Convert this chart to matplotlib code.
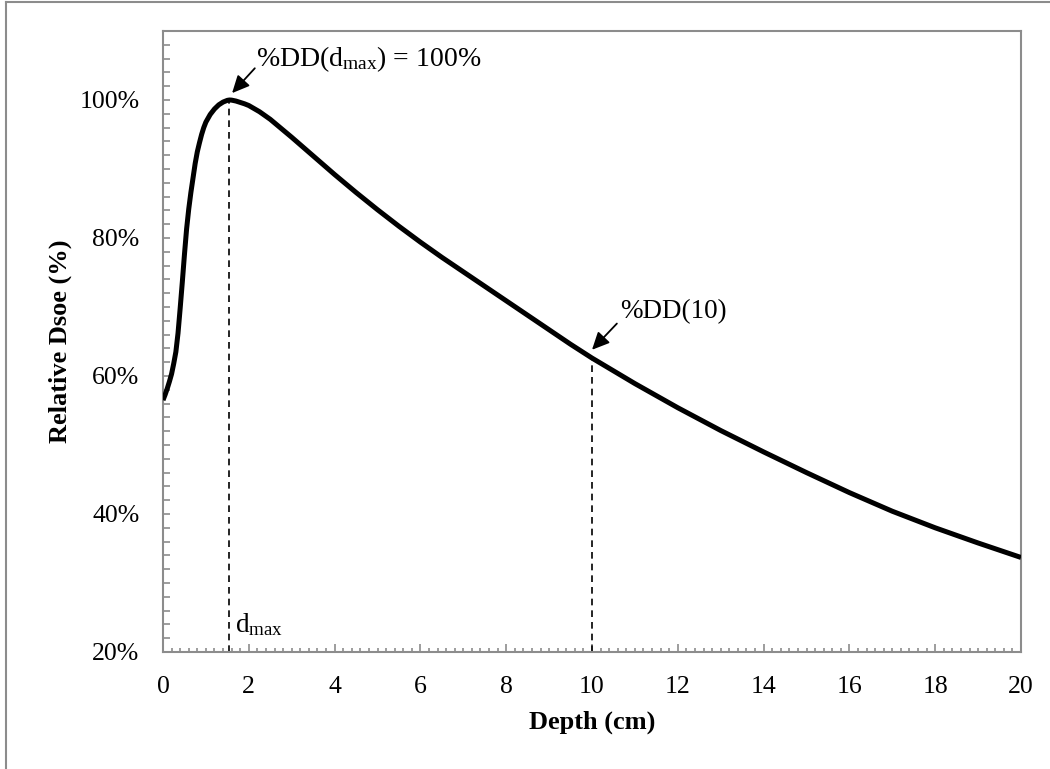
import matplotlib
matplotlib.use("Agg")
import matplotlib.pyplot as plt
from matplotlib.ticker import MultipleLocator, PercentFormatter
from matplotlib.lines import Line2D

# ---- data ----
depth = [0, 0.05, 0.1, 0.15, 0.2, 0.25, 0.3, 0.35, 0.4, 0.45, 0.5, 0.55, 0.6,
         0.65, 0.7, 0.75, 0.8, 0.85, 0.9, 0.95, 1.0, 1.1, 1.2, 1.3, 1.4, 1.5,
         1.55, 1.6, 1.7, 1.8, 1.9, 2.0, 2.25, 2.5, 2.75, 3, 3.5, 4, 4.5, 5,
         5.5, 6, 6.5, 7, 7.5, 8, 8.5, 9, 9.5, 10, 11, 12, 13, 14, 15, 16, 17,
         18, 19, 20]
dose = [56.5, 57.3, 58.2, 59.2, 60.3, 61.8, 63.5, 66.2, 69.8, 73.6, 77.6, 81.3,
        84.2, 86.6, 88.7, 90.8, 92.5, 93.8, 95.0, 96.0, 96.8, 97.9, 98.7, 99.3,
        99.7, 99.95, 100.0, 99.98, 99.85, 99.65, 99.45, 99.2, 98.3, 97.2, 95.9,
        94.6, 91.9, 89.2, 86.6, 84.1, 81.7, 79.4, 77.2, 75.1, 73.0, 70.9, 68.8,
        66.7, 64.6, 62.6, 58.9, 55.4, 52.1, 49.0, 46.0, 43.1, 40.4, 38.0, 35.8,
        33.7]
dmax = 1.55
dose_dmax = 100.0
d10 = 10.0
dose_d10 = 62.6
xticks = list(range(0, 21, 2))
yticks = [20, 40, 60, 80, 100]

plt.rcParams['font.family'] = ['Liberation Serif', 'DejaVu Serif']
plt.rcParams['mathtext.fontset'] = 'custom'
plt.rcParams['mathtext.rm'] = 'Liberation Serif'
plt.rcParams['mathtext.it'] = 'Liberation Serif:italic'
plt.rcParams['mathtext.bf'] = 'Liberation Serif:bold'

fig = plt.figure(figsize=(10.5, 7.69), dpi=100)
ax = fig.add_axes([163/1050, 1-652/769, (1021-163)/1050, (652-31)/769])

ax.plot(depth, dose, color='black', lw=3.6, solid_joinstyle='round',
        solid_capstyle='butt', zorder=3)

# dashed reference lines
ax.plot([dmax, dmax], [20, dose_dmax], color='black', lw=1.2, ls=(0, (4, 3)), zorder=2)
ax.plot([d10, d10], [20, dose_d10], color='black', lw=1.2, ls=(0, (4, 3)), zorder=2)

ax.set_xlim(0, 20)
ax.set_ylim(20, 110)
ax.set_xticks(xticks)
ax.set_yticks(yticks)
ax.xaxis.set_minor_locator(MultipleLocator(0.2))
ax.yaxis.set_minor_locator(MultipleLocator(2))
ax.yaxis.set_major_formatter(PercentFormatter(decimals=0))

gray = '#8c8c8c'
for s in ax.spines.values():
    s.set_color(gray)
    s.set_linewidth(1.5)
ax.tick_params(axis='both', which='both', direction='in', color=gray, width=1.2,
               labelsize=18.5, top=False, right=False)
ax.tick_params(axis='y', which='both', length=5, pad=17)
ax.tick_params(axis='x', which='major', length=5.5, pad=17)
ax.tick_params(axis='x', which='minor', length=3)

ax.set_xlabel('Depth (cm)', fontsize=19, fontweight='bold', labelpad=9)
ax.set_ylabel('Relative Dsoe (%)', fontsize=19, fontweight='bold')
ax.yaxis.set_label_coords(-0.106, 0.5)

arrow = dict(arrowstyle='-|>,head_length=0.7,head_width=0.33', color='black',
             lw=1.3, shrinkA=0, shrinkB=0, mutation_scale=15)
ax.annotate('', xy=(1.61, 101.0), xytext=(2.14, 104.6), arrowprops=arrow)
ax.text(2.17, 104.9, r'%DD(d$_{\mathrm{max}}$) = 100%', fontsize=20,
        ha='left', va='baseline')
ax.annotate('', xy=(10.0, 63.8), xytext=(10.58, 67.6), arrowprops=arrow)
ax.text(10.65, 68.4, '%DD(10)', fontsize=19.5, ha='left', va='baseline')
ax.text(1.68, 22.9, r'd$_{\mathrm{max}}$', fontsize=19.5, ha='left', va='baseline')

# outer frame
fig.add_artist(Line2D([6/1050, 6/1050], [0, 1-2/769], color=gray, lw=1.5,
                      transform=fig.transFigure))
fig.add_artist(Line2D([6/1050, 1], [1-2/769, 1-2/769], color=gray, lw=1.5,
                      transform=fig.transFigure))

fig.savefig('out.png', dpi=100, facecolor='white')
